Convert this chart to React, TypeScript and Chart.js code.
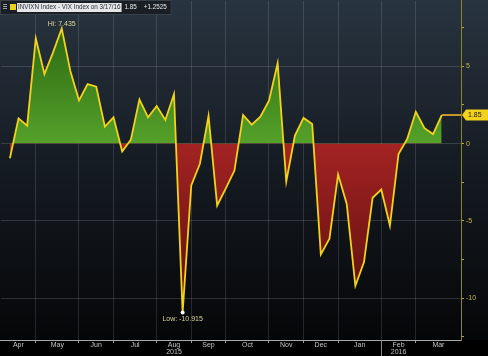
import React, { useEffect, useRef } from 'react';
import { Chart, registerables } from 'chart.js';

Chart.register(...registerables);

// ---- data ----
const seriesName = 'INVIXN Index - VIX Index on 3/17/16';
const changeText = '+1.2525';
const values: number[] = [
  -0.95, 1.63, 1.16, 6.8, 4.5, 5.9, 7.435, 4.7, 2.8, 3.85,
  3.68, 1.1, 1.7, -0.5, 0.24, 2.86, 1.7, 2.43, 1.53, 3.2,
  -10.915, -2.7, -1.3, 1.8, -4.0, -2.9, -1.74, 1.85, 1.23, 1.74,
  2.77, 5.2, -2.45, 0.52, 1.66, 1.27, -7.16, -6.15, -2.0, -3.9,
  -9.2, -7.66, -3.5, -2.97, -5.3, -0.67, 0.3, 2.06, 1.0, 0.62,
  1.85,
];
const monthLabels = ['Apr', 'May', 'Jun', 'Jul', 'Aug', 'Sep', 'Oct', 'Nov', 'Dec', 'Jan', 'Feb', 'Mar'];
const yearLabels = ['', '', '', '', '2015', '', '', '', '', '', '2016', ''];
const monthStartIndex = [3, 8, 12, 17, 21, 25, 30, 34, 38, 43, 47];
const yTickValues = [-12.5, -10, -7.5, -5, -2.5, 0, 2.5, 5, 7.5];

const X_MIN = -1.04;
const X_MAX = 52.23;
const Y_MIN = -12.7;
const Y_MAX = 9.23;

const FONT = '"Liberation Sans", Arial, sans-serif';

export default function App() {
  const ref = useRef<HTMLCanvasElement | null>(null);

  useEffect(() => {
    const canvas = ref.current;
    if (!canvas) return;
    document.body.style.margin = '0';
    document.body.style.background = '#000';

    const bounds = [X_MIN, ...monthStartIndex, X_MAX];
    const mids = monthLabels.map((_, i) => (bounds[i] + bounds[i + 1]) / 2);
    const points = values.map((v, i) => ({ x: i, y: v }));
    const lastIdx = values.length - 1;
    const lastValue = values[lastIdx];
    const maxV = Math.max(...values);
    const minV = Math.min(...values);
    const maxI = values.indexOf(maxV);
    const minI = values.indexOf(minV);

    const bgPlugin = {
      id: 'bg',
      beforeDraw(chart: any) {
        const { ctx, width, height, chartArea } = chart;
        ctx.save();
        const g = ctx.createLinearGradient(0, 0, 0, chartArea.bottom);
        g.addColorStop(0, '#283440');
        g.addColorStop(0.45, '#171d25');
        g.addColorStop(1, '#050607');
        ctx.fillStyle = g;
        ctx.fillRect(0, 0, width, chartArea.bottom);
        ctx.fillStyle = '#000';
        ctx.fillRect(0, chartArea.bottom, width, height - chartArea.bottom);
        ctx.restore();
      },
    };

    const annoPlugin = {
      id: 'anno',
      afterDraw(chart: any) {
        const { ctx, scales, chartArea, height } = chart;
        const xs = scales.x;
        const ys = scales.y;
        ctx.save();
        // year separator below January boundary
        const jx = Math.round(xs.getPixelForValue(monthStartIndex[9])) + 0.5;
        ctx.strokeStyle = '#8a8a8a';
        ctx.lineWidth = 1;
        ctx.beginPath();
        ctx.moveTo(jx, chartArea.bottom);
        ctx.lineTo(jx, height);
        ctx.stroke();

        // Hi / Low labels
        ctx.font = `7px ${FONT}`;
        ctx.fillStyle = '#d8d49a';
        ctx.textAlign = 'center';
        ctx.textBaseline = 'middle';
        ctx.fillText(`Hi: ${maxV}`, xs.getPixelForValue(maxI), ys.getPixelForValue(maxV) - 5);
        ctx.fillText(`Low: ${minV}`, xs.getPixelForValue(minI), ys.getPixelForValue(minV) + 7);

        // last price tag
        const py = ys.getPixelForValue(lastValue);
        const left = ys.left + 2;
        ctx.fillStyle = '#f3d21c';
        ctx.beginPath();
        ctx.moveTo(left - 1, py);
        ctx.lineTo(left + 3, py - 5.5);
        ctx.lineTo(chart.width, py - 5.5);
        ctx.lineTo(chart.width, py + 5.5);
        ctx.lineTo(left + 3, py + 5.5);
        ctx.closePath();
        ctx.fill();
        ctx.fillStyle = '#1a1a10';
        ctx.textAlign = 'left';
        ctx.fillText(String(lastValue), left + 5, py + 0.5);

        // legend box
        ctx.font = `6.3px ${FONT}`;
        const nameW = ctx.measureText(seriesName).width;
        const valStr = String(lastValue);
        const valW = ctx.measureText(valStr).width;
        const chW = ctx.measureText(changeText).width;
        const boxW = 19 + nameW + 4 + valW + 7 + chW + 4;
        ctx.fillStyle = '#1a1f26';
        ctx.fillRect(0, 0, boxW, 15);
        ctx.strokeStyle = '#3a4048';
        ctx.strokeRect(0.5, 0.5, boxW - 1, 14);
        // small list icon
        ctx.fillStyle = '#9aa0a8';
        for (let i = 0; i < 3; i++) ctx.fillRect(3, 4 + i * 2, 4, 1);
        // series colour box
        ctx.fillStyle = '#e8d21e';
        ctx.fillRect(10, 4, 6, 6);
        // highlighted name
        ctx.fillStyle = '#e6e6e6';
        ctx.fillRect(17, 3, nameW + 2, 9);
        ctx.fillStyle = '#1e2a3a';
        ctx.textBaseline = 'middle';
        ctx.fillText(seriesName, 18, 7.5);
        ctx.fillStyle = '#e8e8e8';
        ctx.fillText(valStr, 17 + nameW + 5, 7.5);
        ctx.fillText(changeText, 17 + nameW + 5 + valW + 7, 7.5);
        ctx.restore();
      },
    };

    const chart = new Chart(canvas, {
      type: 'line',
      data: {
        datasets: [
          {
            data: points,
            borderColor: '#f2d21b',
            borderWidth: 1.8,
            tension: 0,
            fill: { target: 'origin', above: '#3f8a1c', below: '#8a1c1c' },
            pointRadius: (c: any) => (c.dataIndex === minI ? 2 : 0),
            pointBackgroundColor: '#ffffff',
            pointBorderWidth: 0,
          },
          {
            data: [
              { x: lastIdx, y: lastValue },
              { x: X_MAX, y: lastValue },
            ],
            borderColor: '#f2b22a',
            borderWidth: 1.6,
            pointRadius: 0,
            fill: false,
          },
        ],
      },
      options: {
        animation: false,
        responsive: false,
        events: [],
        layout: { padding: 0 },
        plugins: { legend: { display: false }, tooltip: { enabled: false } },
        scales: {
          x: {
            type: 'linear',
            position: 'bottom',
            min: X_MIN,
            max: X_MAX,
            afterBuildTicks: (s: any) => {
              s.ticks = monthStartIndex.map((v) => ({ value: v }));
            },
            afterFit: (s: any) => {
              s.height = 0;
              s.paddingLeft = 0;
              s.paddingRight = 0;
            },
            ticks: { display: false, callback: () => '' },
            grid: {
              color: 'rgba(200,210,220,0.16)',
              lineWidth: 1,
              drawTicks: true,
              tickLength: 3,
              tickColor: '#9a9a9a',
            },
            border: { display: true, color: '#a8a8a8', width: 1 },
          },
          x2: {
            type: 'linear',
            position: 'bottom',
            min: X_MIN,
            max: X_MAX,
            afterBuildTicks: (s: any) => {
              s.ticks = mids.map((v) => ({ value: v }));
            },
            afterFit: (s: any) => {
              s.height = 16;
              s.paddingLeft = 0;
              s.paddingRight = 0;
            },
            ticks: {
              autoSkip: false,
              maxRotation: 0,
              padding: 1,
              color: '#c4c4c4',
              font: { size: 7, family: FONT, lineHeight: 1.05 },
              callback: (_v: any, i: number) =>
                yearLabels[i] ? [monthLabels[i], yearLabels[i]] : monthLabels[i],
            },
            grid: { display: false, drawTicks: false },
            border: { display: false },
          },
          y: {
            type: 'linear',
            position: 'right',
            min: Y_MIN,
            max: Y_MAX,
            afterBuildTicks: (s: any) => {
              s.ticks = yTickValues.map((v) => ({ value: v }));
            },
            afterFit: (s: any) => {
              s.width = 27;
              s.paddingTop = 0;
              s.paddingBottom = 0;
            },
            ticks: {
              autoSkip: false,
              padding: 2,
              color: '#c9b94c',
              font: { size: 7, family: FONT },
              callback: (v: any) => (Number(v) % 5 === 0 ? String(v) : ''),
            },
            grid: {
              color: (c: any) =>
                c.tick && c.tick.value % 5 === 0 ? 'rgba(200,210,220,0.18)' : 'rgba(0,0,0,0)',
              lineWidth: 1,
              drawTicks: true,
              tickLength: 3,
              tickColor: '#b8a83c',
            },
            border: { display: true, color: '#8a8426', width: 1 },
          },
        },
      },
      plugins: [bgPlugin, annoPlugin],
    } as any);

    // gradient fills, built from the scale
    const ys: any = chart.scales.y;
    const c2d = chart.ctx;
    const topPx = ys.getPixelForValue(maxV);
    const zeroPx = ys.getPixelForValue(0);
    const botPx = ys.getPixelForValue(minV);
    const green = c2d.createLinearGradient(0, topPx, 0, zeroPx);
    green.addColorStop(0, '#2c6812');
    green.addColorStop(1, '#55a12a');
    const red = c2d.createLinearGradient(0, zeroPx, 0, botPx);
    red.addColorStop(0, '#a42323');
    red.addColorStop(1, '#5c0e0e');
    (chart.data.datasets[0] as any).fill = { target: 'origin', above: green, below: red };
    chart.update('none');

    return () => chart.destroy();
  }, []);

  return (
    <div style={{ position: 'absolute', left: 0, top: 0, width: 488, height: 356 }}>
      <canvas ref={ref} width={488} height={356} style={{ display: 'block' }} />
    </div>
  );
}
